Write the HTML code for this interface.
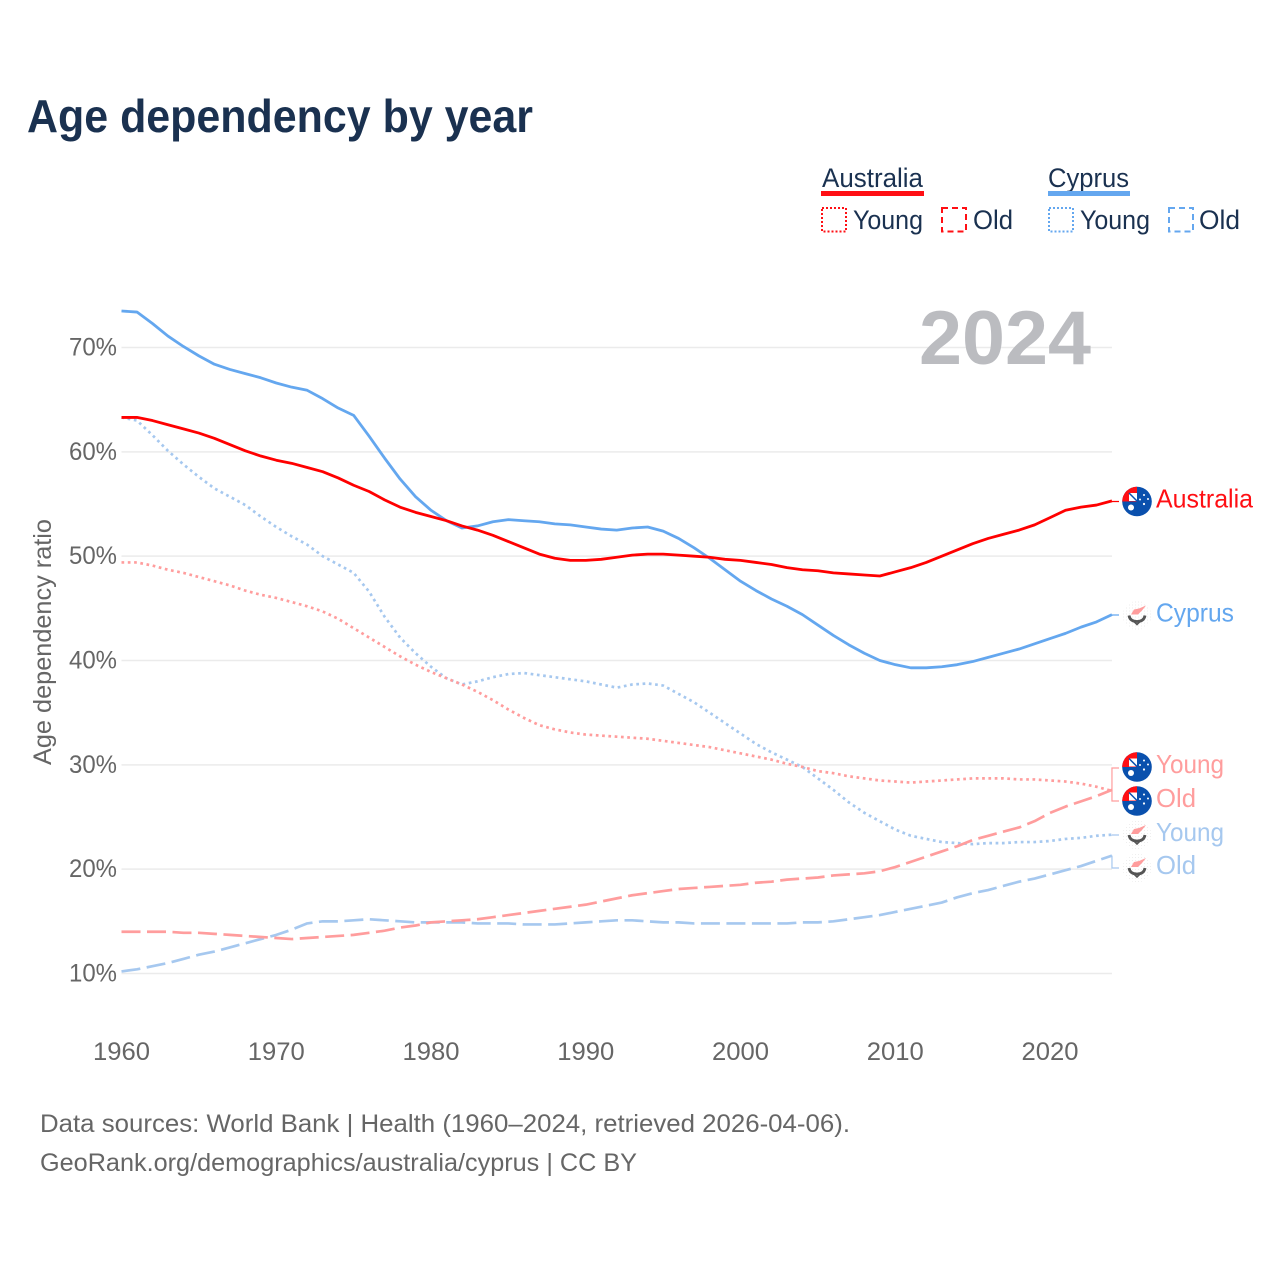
<!DOCTYPE html>
<html lang="en">
<head>
<meta charset="utf-8">
<title>Age dependency by year</title>
<style>
html,body{margin:0;padding:0;background:#fff;width:1280px;height:1280px;overflow:hidden}
svg{display:block}
text{font-family:"Liberation Sans",sans-serif}
</style>
</head>
<body>
<svg id="chart" xmlns="http://www.w3.org/2000/svg" width="1280" height="1280" viewBox="0 0 1280 1280">
  <defs>
    <clipPath id="flag-clip"><circle cx="0" cy="0" r="14.8"/></clipPath>
    <pattern id="dot-pattern" width="3" height="3" patternUnits="userSpaceOnUse">
      <circle cx="1.5" cy="1.5" r="0.5" fill="#e8e8e8"/>
    </pattern>
    <g id="flag-au" clip-path="url(#flag-clip)">
      <rect x="-15" y="-15" width="30" height="30" fill="#0a50ad"/>
      <rect x="-15" y="-15" width="15" height="15" fill="#ff0f14"/>
      <path d="M-8-8.500H0V-0.500H-8Z" fill="#fff"/>
      <path d="M-8-8.500L0-0.500" stroke="#0a50ad" stroke-width="1.5"/>
      <circle cx="-6" cy="6" r="3" fill="#fff"/>
      <circle cx="3" cy="-2" r="1" fill="#fff"/>
      <circle cx="7" cy="-6.500" r="1" fill="#fff"/>
      <circle cx="11" cy="-2.500" r="1" fill="#fff"/>
      <circle cx="7" cy="2.500" r="1.100" fill="#fff"/>
    </g>
    <g id="flag-cy">
      <circle r="14.500" fill="url(#dot-pattern)"/>
      <path d="M-6-1L-3-6L2-7L9-10L5-5L1-1Z" fill="#ff9d9d"/>
      <path d="M-8 0Q-7 6 0 6Q7 6 8 0" fill="none" stroke="#555" stroke-width="2.8"/>
      <path d="M-3 6L0 9L3 6" fill="none" stroke="#555" stroke-width="1.6"/>
    </g>
  </defs>

  <text x="27" y="132" font-size="46" font-weight="700" fill="#1a3150" textLength="506" lengthAdjust="spacingAndGlyphs">Age dependency by year</text>

  <g font-size="27" fill="#1a3150">
    <text x="822" y="187" textLength="101" lengthAdjust="spacingAndGlyphs">Australia</text>
    <rect x="821" y="191" width="103" height="5" fill="#ff0f14"/>
    <rect x="822" y="208" width="24" height="23.500" fill="none" stroke="#ff0f14" stroke-width="2" stroke-dasharray="2 2"/>
    <text x="853" y="229" textLength="70" lengthAdjust="spacingAndGlyphs">Young</text>
    <rect x="942" y="208" width="24" height="23.500" fill="none" stroke="#ff0f14" stroke-width="2" stroke-dasharray="6 4"/>
    <text x="973" y="229" textLength="40" lengthAdjust="spacingAndGlyphs">Old</text>
    <text x="1048" y="187" textLength="81" lengthAdjust="spacingAndGlyphs">Cyprus</text>
    <rect x="1048" y="191" width="82" height="5" fill="#64a7ef"/>
    <rect x="1049" y="208" width="24" height="23.500" fill="none" stroke="#64a7ef" stroke-width="2" stroke-dasharray="2 2"/>
    <text x="1080" y="229" textLength="70" lengthAdjust="spacingAndGlyphs">Young</text>
    <rect x="1169" y="208" width="24" height="23.500" fill="none" stroke="#64a7ef" stroke-width="2" stroke-dasharray="6 4"/>
    <text x="1199" y="229" textLength="41" lengthAdjust="spacingAndGlyphs">Old</text>
  </g>

  <g id="grid"></g>
  <g id="yticks"></g>
  <g id="xticks"></g>

  <text x="919" y="364" font-size="76" font-weight="700" fill="#bbbcc0" textLength="172" lengthAdjust="spacingAndGlyphs">2024</text>

  <text transform="translate(51,765) rotate(-90)" font-size="25" fill="#666" textLength="246" lengthAdjust="spacingAndGlyphs">Age dependency ratio</text>

  <g id="series"></g>
  <g id="connectors"></g>

  <g font-size="26">
    <use href="#flag-au" x="1137" y="501.500"/>
    <text x="1156" y="507.500" fill="#ff0f14" textLength="97" lengthAdjust="spacingAndGlyphs">Australia</text>
    <use href="#flag-cy" x="1137" y="615.500"/>
    <text x="1156" y="621.500" fill="#64a7ef" textLength="78" lengthAdjust="spacingAndGlyphs">Cyprus</text>
    <use href="#flag-au" x="1137" y="767"/>
    <text x="1156" y="773" fill="#ff9d9d" textLength="68" lengthAdjust="spacingAndGlyphs">Young</text>
    <use href="#flag-au" x="1137" y="801"/>
    <text x="1156" y="807" fill="#ff9d9d" textLength="40" lengthAdjust="spacingAndGlyphs">Old</text>
    <use href="#flag-cy" x="1137" y="835"/>
    <text x="1156" y="841" fill="#a6c8ef" textLength="68" lengthAdjust="spacingAndGlyphs">Young</text>
    <use href="#flag-cy" x="1137" y="868"/>
    <text x="1156" y="874" fill="#a6c8ef" textLength="40" lengthAdjust="spacingAndGlyphs">Old</text>
  </g>

  <g font-size="25" fill="#666">
    <text x="40" y="1132" textLength="810" lengthAdjust="spacingAndGlyphs">Data sources: World Bank | Health (1960–2024, retrieved 2026-04-06).</text>
    <text x="40" y="1171" textLength="597" lengthAdjust="spacingAndGlyphs">GeoRank.org/demographics/australia/cyprus | CC BY</text>
  </g>
</svg>
<script>
const startYear = 1960;
const yTickValues = [10, 20, 30, 40, 50, 60, 70];
const xTickValues = [1960, 1970, 1980, 1990, 2000, 2010, 2020];

const australiaTotal = [
  63.3,63.3,63.0,62.6,62.2,61.8,61.3,60.7,60.1,59.6,
  59.2,58.9,58.5,58.1,57.5,56.8,56.2,55.4,54.7,54.2,
  53.8,53.4,52.9,52.5,52.0,51.4,50.8,50.2,49.8,49.6,
  49.6,49.7,49.9,50.1,50.2,50.2,50.1,50.0,49.9,49.7,
  49.6,49.4,49.2,48.9,48.7,48.6,48.4,48.3,48.2,48.1,
  48.5,48.9,49.4,50.0,50.6,51.2,51.7,52.1,52.5,53.0,
  53.7,54.4,54.7,54.9,55.3];
const cyprusTotal = [
  73.5,73.4,72.3,71.1,70.1,69.2,68.4,67.9,67.5,67.1,
  66.6,66.2,65.9,65.1,64.2,63.5,61.5,59.4,57.4,55.7,
  54.4,53.4,52.7,52.9,53.3,53.5,53.4,53.3,53.1,53.0,
  52.8,52.6,52.5,52.7,52.8,52.4,51.7,50.8,49.8,48.7,
  47.6,46.7,45.9,45.2,44.4,43.4,42.4,41.5,40.7,40.0,
  39.6,39.3,39.3,39.4,39.6,39.9,40.3,40.7,41.1,41.6,
  42.1,42.6,43.2,43.7,44.4];
const australiaYoung = [
  49.4,49.4,49.1,48.7,48.4,48.0,47.6,47.2,46.7,46.3,
  46.0,45.6,45.2,44.7,44.0,43.1,42.2,41.3,40.4,39.6,
  38.9,38.3,37.7,37.0,36.2,35.3,34.5,33.8,33.4,33.1,
  32.9,32.8,32.7,32.6,32.5,32.3,32.1,31.9,31.7,31.4,
  31.1,30.8,30.5,30.1,29.8,29.4,29.2,28.9,28.7,28.5,
  28.4,28.3,28.4,28.5,28.6,28.7,28.7,28.7,28.6,28.6,
  28.5,28.4,28.2,27.9,27.5];
const australiaOld = [
  14.0,14.0,14.0,14.0,13.9,13.9,13.8,13.7,13.6,13.5,
  13.4,13.3,13.4,13.5,13.6,13.7,13.9,14.1,14.4,14.6,
  14.9,15.0,15.1,15.2,15.4,15.6,15.8,16.0,16.2,16.4,
  16.6,16.9,17.2,17.5,17.7,17.9,18.1,18.2,18.3,18.4,
  18.5,18.7,18.8,19.0,19.1,19.2,19.4,19.5,19.6,19.8,
  20.2,20.7,21.2,21.7,22.2,22.8,23.2,23.6,24.0,24.6,
  25.4,26.0,26.5,27.0,27.6];
const cyprusYoung = [
  63.3,63.0,61.6,60.1,58.8,57.6,56.5,55.7,54.9,53.8,
  52.8,51.9,51.1,50.0,49.2,48.4,46.6,44.2,42.2,40.7,
  39.4,38.3,37.7,38.0,38.4,38.7,38.8,38.6,38.4,38.2,
  38.0,37.7,37.4,37.7,37.8,37.6,36.8,36.0,35.0,34.0,
  33.0,32.0,31.2,30.5,29.8,28.7,27.6,26.4,25.4,24.6,
  23.8,23.2,22.9,22.6,22.5,22.4,22.5,22.5,22.6,22.6,
  22.7,22.9,23.0,23.2,23.3];
const cyprusOld = [
  10.2,10.4,10.7,11.0,11.4,11.8,12.1,12.5,12.9,13.3,
  13.7,14.2,14.8,15.0,15.0,15.1,15.2,15.1,15.0,14.9,
  14.9,14.9,14.9,14.8,14.8,14.8,14.7,14.7,14.7,14.8,
  14.9,15.0,15.1,15.1,15.0,14.9,14.9,14.8,14.8,14.8,
  14.8,14.8,14.8,14.8,14.9,14.9,15.0,15.2,15.4,15.6,
  15.9,16.2,16.5,16.8,17.3,17.7,18.0,18.4,18.8,19.1,
  19.5,19.9,20.3,20.8,21.3];

const NS = 'http://www.w3.org/2000/svg';
function xScale(year) { return 121.5 + (year - 1960) * 15.476; }
function yScale(value) { return 973.5 - (value - 10) * 10.433; }
const plotRight = xScale(2024);

const gridGroup = document.getElementById('grid');
const yTickGroup = document.getElementById('yticks');
const xTickGroup = document.getElementById('xticks');
const seriesGroup = document.getElementById('series');
const connectorGroup = document.getElementById('connectors');

yTickValues.forEach(function (tick) {
  const line = document.createElementNS(NS, 'line');
  
  
  line.setAttribute('x1', xScale(1960));
  line.setAttribute('x2', plotRight);
  line.setAttribute('y1', yScale(tick));
  line.setAttribute('y2', yScale(tick));
  line.setAttribute('stroke', '#ebebeb');
  line.setAttribute('stroke-width', '1.5');
  gridGroup.appendChild(line);

  const label = document.createElementNS(NS, 'text');
  
  
  label.setAttribute('x', '117');
  label.setAttribute('y', yScale(tick) + 8);
  label.setAttribute('text-anchor', 'end');
  label.setAttribute('font-size', '25');
  label.setAttribute('fill', '#666');
  label.setAttribute('textLength', '48');
  label.setAttribute('lengthAdjust', 'spacingAndGlyphs');
  label.textContent = tick + '%';
  yTickGroup.appendChild(label);
});

xTickValues.forEach(function (tick) {
  const label = document.createElementNS(NS, 'text');
  
  
  label.setAttribute('x', xScale(tick));
  label.setAttribute('y', '1060');
  label.setAttribute('text-anchor', 'middle');
  label.setAttribute('font-size', '25');
  label.setAttribute('fill', '#666');
  label.setAttribute('textLength', '57');
  label.setAttribute('lengthAdjust', 'spacingAndGlyphs');
  label.textContent = tick;
  xTickGroup.appendChild(label);
});

function linePoints(values) {
  return values.map(function (value, i) {
    return xScale(startYear + i).toFixed(2) + ',' + yScale(value).toFixed(2);
  }).join(' ');
}

function drawSeries(name, values, color, dash, width) {
  const line = document.createElementNS(NS, 'polyline');
  
  
  line.setAttribute('points', linePoints(values));
  line.setAttribute('fill', 'none');
  line.setAttribute('stroke', color);
  line.setAttribute('stroke-width', width);
  line.setAttribute('stroke-linejoin', 'round');
  if (dash) line.setAttribute('stroke-dasharray', dash);
  seriesGroup.appendChild(line);
}

drawSeries('line-cyprus-old', cyprusOld, '#a6c8ef', '19 6.5', '2.7');
drawSeries('line-cyprus-young', cyprusYoung, '#a6c8ef', '2.7 3.6', '2.7');
drawSeries('line-australia-old', australiaOld, '#ff9d9d', '19 6.5', '2.7');
drawSeries('line-australia-young', australiaYoung, '#ff9d9d', '2.7 3.6', '2.7');
drawSeries('line-cyprus-total', cyprusTotal, '#64a7ef', '', '2.8');
drawSeries('line-australia-total', australiaTotal, '#ff0000', '', '2.8');

function drawConnector(name, value, targetY, color) {
  const line = document.createElementNS(NS, 'path');
  
  
  const y = yScale(value);
  line.setAttribute('d', 'M' + plotRight + ' ' + y + 'V' + targetY + 'H1119');
  line.setAttribute('fill', 'none');
  line.setAttribute('stroke', color);
  line.setAttribute('stroke-width', '1.2');
  connectorGroup.appendChild(line);
}

drawConnector('connector-australia', australiaTotal[64], 501.5, '#ff0000');
drawConnector('connector-cyprus', cyprusTotal[64], 615, '#64a7ef');
drawConnector('connector-australia-young', australiaYoung[64], 768, '#ff9d9d');
drawConnector('connector-australia-old', australiaOld[64], 801, '#ff9d9d');
drawConnector('connector-cyprus-young', cyprusYoung[64], 835, '#a6c8ef');
drawConnector('connector-cyprus-old', cyprusOld[64], 868, '#a6c8ef');
</script>
</body>
</html>
